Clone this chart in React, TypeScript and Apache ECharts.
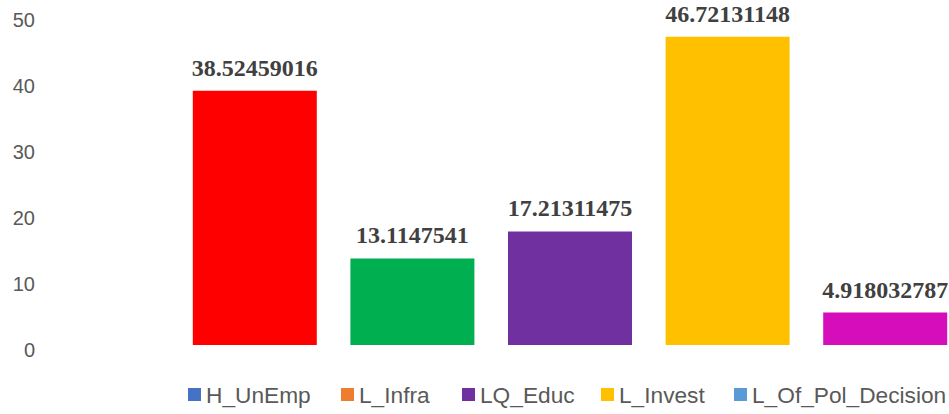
import React, { useEffect, useRef } from "react";
import * as echarts from "echarts";

const categories = ["H_UnEmp", "L_Infra", "LQ_Educ", "L_Invest", "L_Of_Pol_Decision"];
const values = [38.52459016, 13.1147541, 17.21311475, 46.72131148, 4.918032787];
const barColors = ["#FF0000", "#00B050", "#7030A0", "#FFC000", "#D60DBB"];
const legendColors = ["#4472C4", "#ED7D31", "#7030A0", "#FFC000", "#5B9BD5"];
const legendLefts = [188, 341, 462, 601, 734];
const yTicks = [0, 10, 20, 30, 40, 50];

export default function App() {
  const ref = useRef<HTMLDivElement>(null);
  useEffect(() => {
    if (!ref.current) return;
    const chart = echarts.init(ref.current, undefined, { renderer: "svg" });
    const series = categories.map((name, i) => ({
      name,
      type: "bar",
      stack: "all",
      barWidth: 124,
      itemStyle: { color: legendColors[i] },
      data: categories.map((_, j) =>
        j === i ? { value: values[j], itemStyle: { color: barColors[j] } } : "-"
      ),
      label: {
        show: true,
        position: "top",
        distance: 11,
        color: "#404040",
        fontFamily: "Liberation Serif",
        fontWeight: "bold",
        fontSize: 24,
        formatter: (p: any) => String(p.value),
      },
    }));
    chart.setOption({
      animation: false,
      backgroundColor: "#ffffff",
      grid: { left: 176, right: 16, top: 15, bottom: 69, containLabel: false },
      legend: categories.map((name, i) => ({
        data: [name],
        left: legendLefts[i],
        top: 383,
        itemWidth: 13,
        itemHeight: 13,
        icon: "rect",
        padding: 0,
        textStyle: {
          fontFamily: "Liberation Sans",
          fontSize: 22.7,
          color: "#595959",
          padding: [9, 0, 0, 0],
        },
      })),
      xAxis: {
        type: "category",
        data: categories,
        axisLine: { show: false },
        axisTick: { show: false },
        axisLabel: { show: false },
        splitLine: { show: false },
      },
      yAxis: {
        type: "value",
        min: yTicks[0],
        max: yTicks[yTicks.length - 1],
        interval: 10,
        axisLine: { show: false },
        axisTick: { show: false },
        splitLine: { show: false },
        axisLabel: {
          margin: 141,
          formatter: (v: number) => `{a|${v}}`,
          rich: {
            a: {
              fontFamily: "Liberation Sans",
              fontSize: 20,
              color: "#595959",
              padding: [9, 0, 0, 0],
            },
          },
        },
      },
      series,
    });
    return () => chart.dispose();
  }, []);
  return (
    <div style={{ width: 949, height: 414, position: "absolute", left: 0, top: 0, overflow: "hidden" }}>
      <div ref={ref} style={{ width: 980, height: 414 }} />
    </div>
  );
}
